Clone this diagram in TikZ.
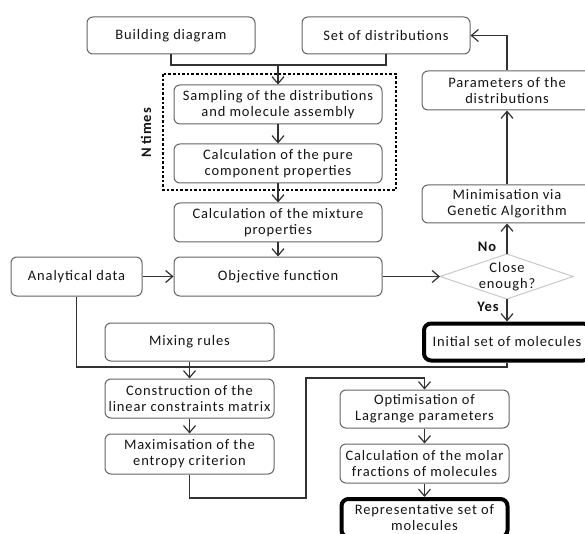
\documentclass[tikz,border=0pt]{standalone}
\usepackage{fontspec}
\setmainfont{Carlito}[LetterSpace=6]
\usetikzlibrary{arrows.meta}
\definecolor{boxgray}{RGB}{100,100,100}
\definecolor{linegray}{RGB}{50,50,50}
\definecolor{diagray}{RGB}{200,200,200}
\definecolor{txt}{RGB}{20,20,20}
\begin{document}
\begin{tikzpicture}[x=1pt,y=-1pt,
  every node/.style={font=\fontsize{14.5}{16}\selectfont, text=txt, align=center},
  box/.style={draw=boxgray, line width=1pt, rounded corners=6pt, inner sep=0pt},
  bold box/.style={draw=black, line width=4pt, rounded corners=7pt, inner sep=0pt},
  arr/.style={draw=linegray, line width=1.2pt, -{Straight Barb[length=7pt,width=12pt]}},
  con/.style={draw=linegray, line width=1.2pt},
  lbl/.style={font=\fontsize{14.5}{16}\selectfont\bfseries}]
\useasboundingbox (0,0) rectangle (585,534);
\clip (0,0) rectangle (585,534);

% upper loop: building the set of molecules
\node[box, minimum width=168, minimum height=37] (build) at (171,35.5) {Building diagram};
\node[box, minimum width=168, minimum height=37] (setd) at (386,35.5) {Set of distributions};
\node[box, minimum width=208, minimum height=39] (samp) at (278,104.5) {Sampling of the distributions\\and molecule assembly};
\node[box, minimum width=208, minimum height=39] (pure) at (278,163.5) {Calculation of the pure\\component properties};
\node[box, minimum width=208, minimum height=39] (mix) at (278,222.5) {Calculation of the mixture\\properties};
\node[box, minimum width=208, minimum height=39] (obj) at (278,276.5) {Objective function};
\node[box, minimum width=131, minimum height=39] (anal) at (76.5,276.5) {Analytical data};

% repeated block
\draw[black, line width=2.8pt, dash pattern=on 2.6pt off 2pt] (163,74) rectangle (396,190);
\node[lbl, rotate=90] (ntimes) at (146,133) {N times};

% decision
\node (close) at (507,276.5) {Close\\enough?};
\coordinate (closeW) at (440,276.5);
\coordinate (closeE) at (573,276.5);
\coordinate (closeN) at (507,254);
\coordinate (closeS) at (507,299);
\draw[diagray, line width=1pt] (closeW) -- (closeN) -- (closeE) -- (closeS) -- cycle;

\node[box, minimum width=170, minimum height=38] (minim) at (507,204) {Minimisation via\\Genetic Algorithm};
\node[box, minimum width=170, minimum height=39] (param) at (507,90.5) {Parameters of the\\distributions};
\node[bold box, minimum width=166, minimum height=37] (init) at (507,342) {Initial set of molecules};

\node[lbl] (no) at (487,247) {No};
\node[lbl] (yes) at (488,307) {Yes};

% lower part: maximum entropy step
\node[box, minimum width=169, minimum height=38] (mixr) at (189.5,342) {Mixing rules};
\node[box, minimum width=169, minimum height=39] (cons) at (189.5,398.5) {Construction of the\\linear constraints matrix};
\node[box, minimum width=169, minimum height=40] (maxi) at (189.5,454) {Maximisation of the\\entropy criterion};
\node[box, minimum width=169, minimum height=38] (opt) at (424.5,409) {Optimisation of\\Lagrange parameters};
\node[box, minimum width=169, minimum height=39] (molar) at (424.5,463.5) {Calculation of the molar\\fractions of molecules};
\node[bold box, minimum width=166, minimum height=38] (rep) at (424.5,518) {Representative set of\\molecules};

% connectors
\coordinate (join) at (278,65);
\coordinate (busy) at (0,367);
\coordinate (lo) at (306,498);
\coordinate (hi) at (306,378);

\draw[con] (build.south) |- (join);
\draw[con] (setd.south) |- (join);
\draw[arr] (join) -- (samp.north);
\draw[arr] (samp) -- (pure);
\draw[arr] (pure) -- (mix);
\draw[arr] (mix) -- (obj);
\draw[arr] (anal) -- (obj);
\draw[arr] (obj.east) -- (closeW);
\draw[arr] (closeN) -- (minim.south);
\draw[arr] (minim) -- (param);
\draw[arr] (param.north) |- (setd.east);
\draw[arr] (closeS) -- (init.north);

\draw[con] (anal.south) |- (init.south |- busy) -- (init.south);
\draw[arr] (mixr) -- (cons);
\draw[arr] (cons) -- (maxi);
\draw[arr] (maxi.south) |- (lo) -- (hi) -| (opt.north);
\draw[arr] (opt) -- (molar);
\draw[arr] (molar) -- (rep);
\end{tikzpicture}
\end{document}
